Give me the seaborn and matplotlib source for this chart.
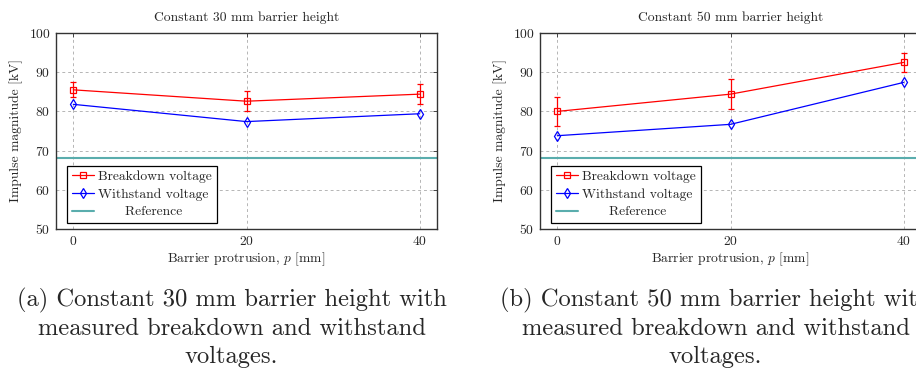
import matplotlib
matplotlib.use("Agg")
import matplotlib.pyplot as plt
import seaborn as sns
import pandas as pd
import numpy as np

# ---- data ----
protrusion = [0, 20, 40]
titles = ["Constant 30 mm barrier height", "Constant 50 mm barrier height"]
breakdown_30 = [85.5, 82.6, 84.4]
breakdown_30_err = [1.9, 2.6, 2.5]
withstand_30 = [81.8, 77.4, 79.4]
breakdown_50 = [80.0, 84.4, 92.5]
breakdown_50_err = [3.6, 3.8, 2.5]
withstand_50 = [73.8, 76.7, 87.4]
reference = 68
xticks = [0, 20, 40]
yticks = [50, 60, 70, 80, 90, 100]
captions = [
    "(a) Constant 30 mm barrier height with\nmeasured breakdown and withstand\nvoltages.",
    "(b) Constant 50 mm barrier height with\nmeasured breakdown and withstand\nvoltages.",
]

sns.set_style("white")
plt.rcParams["font.family"] = ["cmr10", "DejaVu Serif"]
plt.rcParams["mathtext.fontset"] = "cm"
plt.rcParams["axes.formatter.use_mathtext"] = True

W, H = 916, 373
fig = plt.figure(figsize=(W / 100, H / 100), dpi=100)

panels = [
    (breakdown_30, breakdown_30_err, withstand_30, 56),
    (breakdown_50, breakdown_50_err, withstand_50, 540),
]
fs = 9.8
for i, (bd, bde, ws, left_px) in enumerate(panels):
    ax = fig.add_axes([left_px / W, 1 - 229 / H, 381 / W, 196 / H])
    df = pd.DataFrame({"p": protrusion, "Breakdown voltage": bd, "Withstand voltage": ws})
    ax.errorbar(df["p"], df["Breakdown voltage"], yerr=bde, fmt="none",
                ecolor="red", elinewidth=0.9, capsize=2.2, capthick=0.9, zorder=3)
    sns.lineplot(data=df, x="p", y="Breakdown voltage", ax=ax, color="red",
                 marker="s", markersize=4.8, markerfacecolor="none",
                 markeredgecolor="red", markeredgewidth=0.9, linewidth=0.9,
                 label="Breakdown voltage", zorder=4)
    sns.lineplot(data=df, x="p", y="Withstand voltage", ax=ax, color="blue",
                 marker="d", markersize=5.6, markerfacecolor="none",
                 markeredgecolor="blue", markeredgewidth=0.9, linewidth=0.9,
                 label="Withstand voltage", zorder=4)
    ax.axhline(reference, color="#5aadad", linewidth=1.5,
               label="      Reference", zorder=2)

    ax.set_xlim(-2, 42)
    ax.set_ylim(50, 100)
    ax.set_xticks(xticks)
    ax.set_yticks(yticks)
    ax.grid(True, color="#b5b5b5", linestyle=(0, (3, 3)), linewidth=0.7)
    ax.tick_params(direction="in", length=3, width=0.7, top=True, right=True,
                   labelsize=fs, color="#444444", pad=4)
    for s in ax.spines.values():
        s.set_color("#333333")
        s.set_linewidth(1.0)
    ax.set_title(titles[i], fontsize=fs, pad=9)
    ax.set_xlabel("Barrier protrusion, $p$ [mm]", fontsize=fs, labelpad=2)
    ax.set_ylabel("Impulse magnitude [kV]", fontsize=fs, labelpad=4)
    leg = ax.legend(loc="lower left", bbox_to_anchor=(0.03, 0.03), borderaxespad=0,
                    fontsize=fs, frameon=True, fancybox=False, edgecolor="black",
                    framealpha=1, handlelength=1.6, handletextpad=0.3,
                    labelspacing=0.38, borderpad=0.35)
    leg.get_frame().set_linewidth(0.9)

    fig.text((left_px + 175.5) / W, 1 - 288 / H, captions[i], ha="center", va="top",
             fontsize=17.7, linespacing=1.3, multialignment="center")

fig.savefig("out.png", dpi=100)
